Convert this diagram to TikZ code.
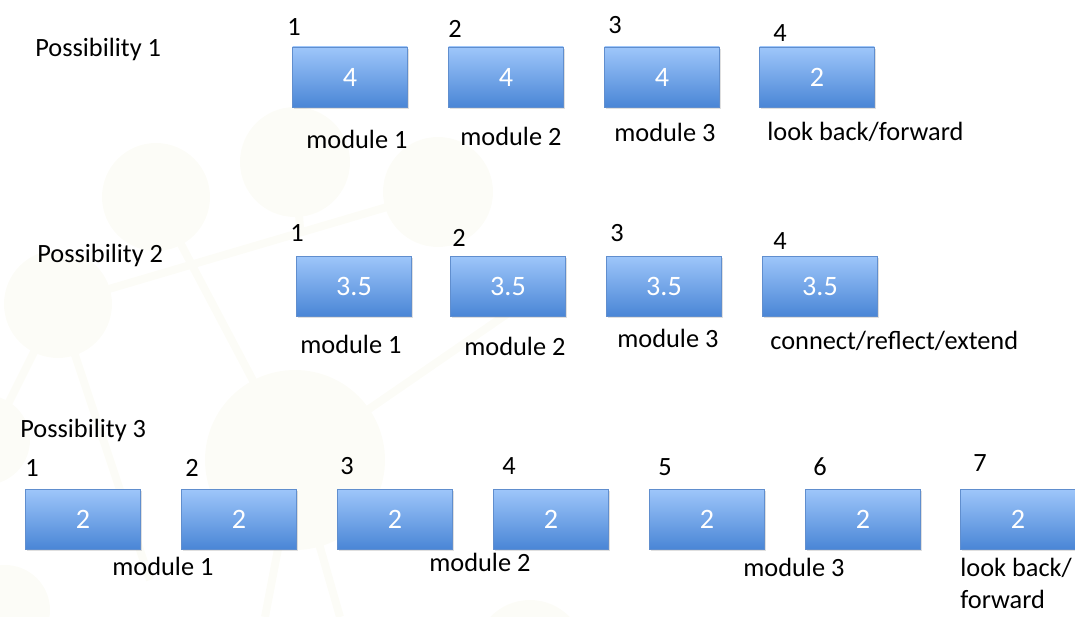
\documentclass[tikz,border=0pt]{standalone}
\usepackage{fontspec}
\setmainfont{Carlito}
\usetikzlibrary{shadows}

\definecolor{boxtop}{RGB}{158,198,250}
\definecolor{boxbot}{RGB}{74,134,214}
\definecolor{boxline}{RGB}{96,142,206}
\definecolor{bgmol}{RGB}{252,252,247}

\begin{document}
\begin{tikzpicture}[x=0.02cm,y=-0.02cm,font=\fontsize{15}{18.5}\selectfont,
    modbox/.style={draw=boxline,top color=boxtop,bottom color=boxbot,
      minimum width=2.3cm,minimum height=1.2cm,inner sep=0pt,text=white,
      font=\fontsize{16}{19}\selectfont,
      drop shadow={shadow xshift=0.6pt,shadow yshift=-0.9pt,opacity=0.25}},
    lbl/.style={anchor=base west,inner sep=0pt}]
  \useasboundingbox (0,0) rectangle (1075,617);

  % faint molecule behind everything
  \draw[bgmol,line width=0.16cm] (58,304) -- (438,192);
  \draw[bgmol,line width=0.16cm] (156,197) -- (295,460) -- (520,305);
  \draw[bgmol,line width=0.16cm] (295,162) -- (300,228);
  \draw[bgmol,line width=0.16cm] (58,304) -- (-10,440) (58,304) -- (150,580);
  \draw[bgmol,line width=0.16cm] (295,460) -- (265,617) (295,460) -- (340,617);
  \foreach \cx/\cy/\r in {156/197/54, 295/162/55, 438/192/55, 58/304/54,
      295/460/90, -15/440/45, 5/610/45, 530/655/55}
    \fill[bgmol] (\cx,\cy) circle[radius=\r];

  % possibility 1
  \node[lbl] (pos1) at (35,57) {Possibility 1};
  \foreach \n/\x/\nx/\ny/\v in {1/350/287/36/4, 2/506/448/38/4, 3/662/608/34/4, 4/817/773/42/2} {
    \node[modbox] (a\n) at (\x,77) {\v};
    \node[lbl] (na\n) at (\nx,\ny) {\n};
  }
  \node[lbl] (ma1) at (306,149) {module 1};
  \node[lbl] (ma2) at (460,146) {module 2};
  \node[lbl] (ma3) at (614,142) {module 3};
  \node[lbl] (ma4) at (767,141) {look back/forward};

  % possibility 2
  \node[lbl] (pos2) at (37,263) {Possibility 2};
  \foreach \n/\x/\nx/\ny in {1/354/290/242, 2/508/452/247, 3/664/610/242, 4/820/773/250} {
    \node[modbox] (b\n) at (\x,286) {3.5};
    \node[lbl] (nb\n) at (\nx,\ny) {\n};
  }
  \node[lbl] (mb1) at (300,354) {module 1};
  \node[lbl] (mb2) at (464,356) {module 2};
  \node[lbl] (mb3) at (617,348) {module 3};
  \node[lbl] (mb4) at (770,350) {connect/reflect/extend};

  % possibility 3
  \node[lbl] (pos3) at (20,438) {Possibility 3};
  \foreach \n/\x/\nx/\ny in {1/83/25/477, 2/239/185/477, 3/395/340/475, 4/551/502/475,
      5/707/658/476, 6/863/813/476, 7/1018/973/472} {
    \node[modbox] (c\n) at (\x,519) {2};
    \node[lbl] (nc\n) at (\nx,\ny) {\n};
  }
  \node[lbl] (mc1) at (112,576) {module 1};
  \node[lbl] (mc2) at (429,572) {module 2};
  \node[lbl] (mc3) at (743,577) {module 3};
  \node[lbl,align=left] (mc4) at (960,609) {look back/\\forward};
\end{tikzpicture}
\end{document}
